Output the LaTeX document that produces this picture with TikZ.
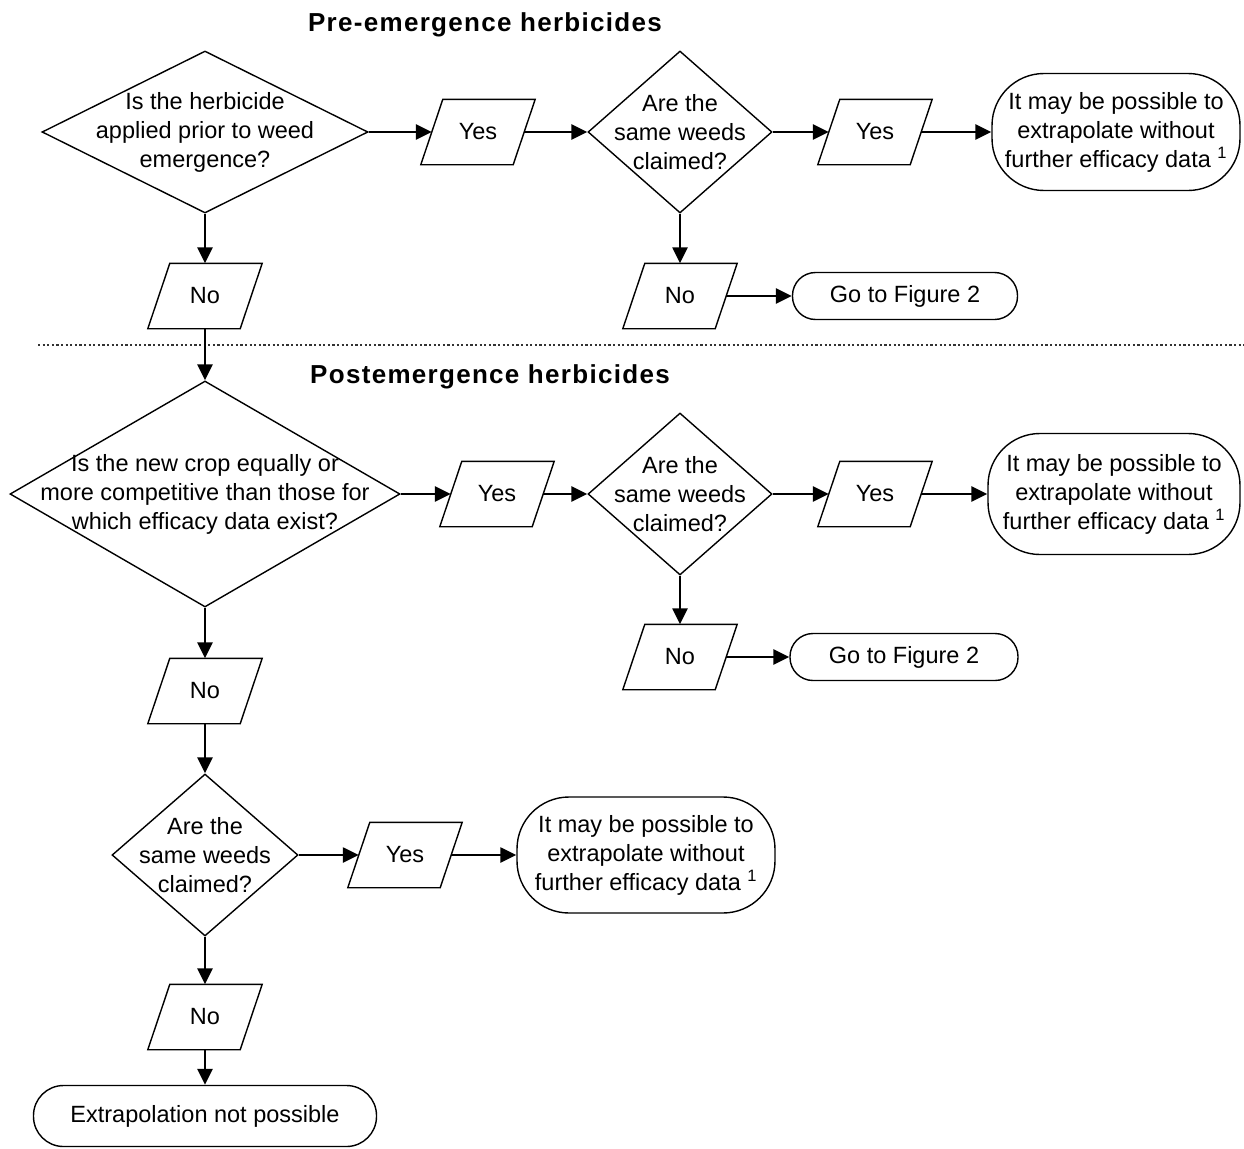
\documentclass[tikz,border=0pt]{standalone}
\usepackage{fontspec}
\setmainfont{Liberation Sans}
\newfontfamily\titlefont[LetterSpace=5]{Liberation Sans}
\usetikzlibrary{shapes.geometric,arrows.meta}
\begin{document}
\begin{tikzpicture}[x=1pt,y=-1pt,
  every node/.style={font=\fontsize{23.5}{29}\selectfont},
  dia/.style={draw,diamond,line width=1.4pt,inner sep=0pt},
  para/.style={rectangle,minimum width=92pt,minimum height=65pt,inner sep=0pt},
  pbox/.style={line width=1.4pt,line join=miter},
  term/.style={draw,rectangle,line width=1.4pt,align=center,inner sep=0pt},
  arr/.style={line width=2.5pt,-{Triangle[length=16pt,width=15pt]}},
  ttl/.style={font=\titlefont\bfseries\fontsize{26}{30}\selectfont},
  sepline/.style={line width=2.2pt,dash pattern=on 2.2pt off 2.4pt,black!80}
]
\useasboundingbox (0,0) rectangle (1244,1148);

% Titles
\node[ttl] (ttlA) at (485,25) {Pre-emergence herbicides};
\node[ttl] (ttlB) at (490,377) {Postemergence herbicides};

% Pre-emergence section
\node[dia,minimum width=326pt,minimum height=162pt,
  label={[align=center]center:Is the herbicide\\applied prior to weed\\emergence?}] (d1) at (205,132) {};
\node[para] (y1) at (478,132) {Yes};
\node[dia,minimum width=184pt,minimum height=162pt,
  label={[align=center]center:Are the\\same weeds\\claimed?}] (d2) at (680,132) {};
\node[para] (y2) at (875,132) {Yes};
\node[term,minimum width=248pt,minimum height=117pt,rounded corners=52pt] (e1) at (1116,132)
  {It may be possible to\\extrapolate without\\further efficacy data \textsuperscript{1}};
\node[para] (n1) at (205,296) {No};
\node[para] (n2) at (680,296) {No};
\node[term,minimum width=225pt,minimum height=47pt,rounded corners=23pt] (g1) at (905,296) {Go to Figure 2};

% separator
\coordinate (sepL) at (38,345);
\coordinate (sepR) at (1244,345);
\draw[sepline] (sepL) -- (sepR);

% Postemergence section
\node[dia,minimum width=390pt,minimum height=226pt,
  label={[align=center]center:Is the new crop equally or\\more competitive than those for\\which efficacy data exist?}] (d3) at (205,494) {};
\node[para] (y3) at (497,494) {Yes};
\node[dia,minimum width=184pt,minimum height=162pt,
  label={[align=center]center:Are the\\same weeds\\claimed?}] (d4) at (680,494) {};
\node[para] (y4) at (875,494) {Yes};
\node[term,minimum width=252pt,minimum height=121pt,rounded corners=52pt] (e2) at (1114,494)
  {It may be possible to\\extrapolate without\\further efficacy data \textsuperscript{1}};
\node[para] (n3) at (680,657) {No};
\node[term,minimum width=228pt,minimum height=47pt,rounded corners=23pt] (g2) at (904,657) {Go to Figure 2};
\node[para] (n4) at (205,691) {No};
\node[dia,minimum width=186pt,minimum height=162pt,
  label={[align=center]center:Are the\\same weeds\\claimed?}] (d5) at (205,855) {};
\node[para] (y5) at (405,855) {Yes};
\node[term,minimum width=258pt,minimum height=116pt,rounded corners=52pt] (e3) at (646,855)
  {It may be possible to\\extrapolate without\\further efficacy data \textsuperscript{1}};
\node[para] (n5) at (205,1017) {No};
\node[term,minimum width=343pt,minimum height=61pt,rounded corners=30pt] (ex) at (205,1116) {Extrapolation not possible};

% parallelogram outlines
\foreach \p in {y1,y2,y3,y4,y5,n1,n2,n3,n4,n5}{
  \draw[pbox] ([xshift=-11pt]\p.south west) -- ([xshift=11pt]\p.north west)
    -- ([xshift=11pt]\p.north east) -- ([xshift=-11pt]\p.south east) -- cycle;
}

% Connectors
\draw[arr] (d1.east) -- (y1.west);
\draw[arr] (y1.east) -- (d2.west);
\draw[arr] (d2.east) -- (y2.west);
\draw[arr] (y2.east) -- (e1.west);
\draw[arr] (d2.south) -- (n2.north);
\draw[arr] (n2.east) -- (g1.west);
\draw[arr] (d1.south) -- (n1.north);
\draw[arr] (n1.south) -- (d3.north);
\draw[arr] (d3.east) -- (y3.west);
\draw[arr] (y3.east) -- (d4.west);
\draw[arr] (d4.east) -- (y4.west);
\draw[arr] (y4.east) -- (e2.west);
\draw[arr] (d4.south) -- (n3.north);
\draw[arr] (n3.east) -- (g2.west);
\draw[arr] (d3.south) -- (n4.north);
\draw[arr] (n4.south) -- (d5.north);
\draw[arr] (d5.east) -- (y5.west);
\draw[arr] (y5.east) -- (e3.west);
\draw[arr] (d5.south) -- (n5.north);
\draw[arr] (n5.south) -- (ex.north);
\end{tikzpicture}
\end{document}
